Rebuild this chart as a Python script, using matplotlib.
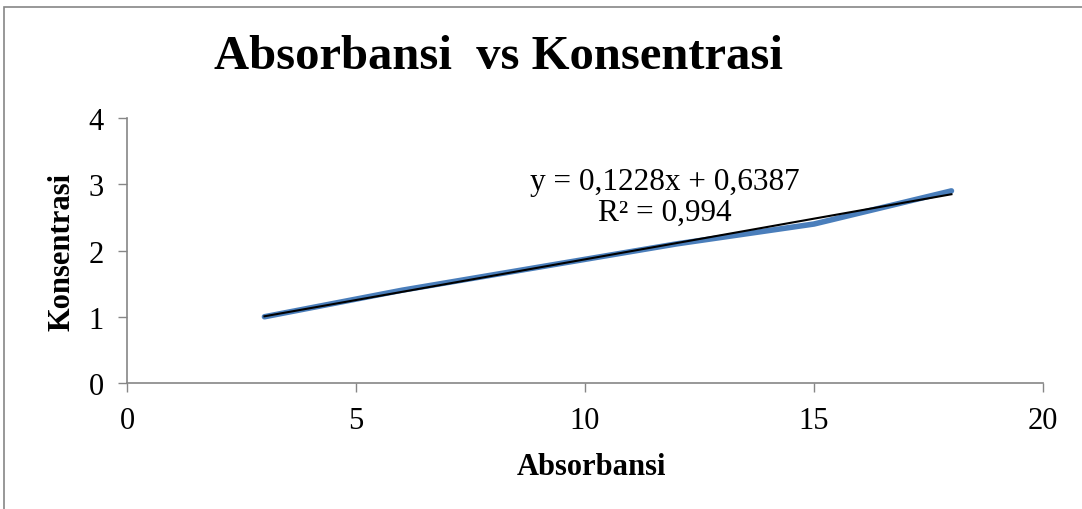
import numpy as np
import matplotlib.pyplot as plt
from matplotlib.patches import Rectangle

# data
absorbansi = [3, 6, 9, 12, 15, 18]
konsentrasi = [1.0, 1.4, 1.75, 2.1, 2.4, 2.9]
slope, intercept = 0.1228, 0.6387
eq_label = "y = 0,1228x + 0,6387\nR² = 0,994"
x_ticks = [0, 5, 10, 15, 20]
y_ticks = [0, 1, 2, 3, 4]

plt.rcParams["font.family"] = ["Liberation Serif", "DejaVu Serif"]

fig = plt.figure(figsize=(10.82, 5.10), dpi=100)
ax = fig.add_axes([0.1174, 0.247, 0.8466, 0.5197])

ax.plot(absorbansi, konsentrasi, color="#4a7ebb", lw=4, solid_capstyle="round",
        solid_joinstyle="round", zorder=2)
xt = np.array([absorbansi[0], absorbansi[-1]])
ax.plot(xt, slope * xt + intercept, color="black", lw=1.5, zorder=3)

ax.text(11.75, 2.81, eq_label, ha="center", va="center", fontsize=22.5,
        linespacing=1.12)

ax.set_xlim(0, 20)
ax.set_ylim(0, 4)
ax.set_xticks(x_ticks)
ax.set_yticks(y_ticks)
ax.tick_params(labelsize=22, length=6.5, width=1, color="#868686", direction="out")
ax.tick_params(axis="x", pad=10)
ax.tick_params(axis="y", pad=10)
for s in ["top", "right"]:
    ax.spines[s].set_visible(False)
for s in ["left", "bottom"]:
    ax.spines[s].set_color("#868686")
    ax.spines[s].set_linewidth(1.2)

ax.set_xlabel("Absorbansi", fontsize=22, fontweight="bold")
ax.set_ylabel("Konsentrasi", fontsize=22, fontweight="bold")
ax.xaxis.set_label_coords(0.5073, -0.262)
ax.yaxis.set_label_coords(-0.055, 0.5)

fig.text(0.461, 0.888, "Absorbansi  vs Konsentrasi", ha="center", va="center",
         fontsize=35, fontweight="bold")

# outer chart frame
fig.patches.append(Rectangle((4 / 1082, -0.1), 1.2, 1 - 8 / 510 + 0.1,
                             transform=fig.transFigure, fill=False,
                             edgecolor="#868686", lw=1.2))

fig.savefig("out.png", dpi=100)
